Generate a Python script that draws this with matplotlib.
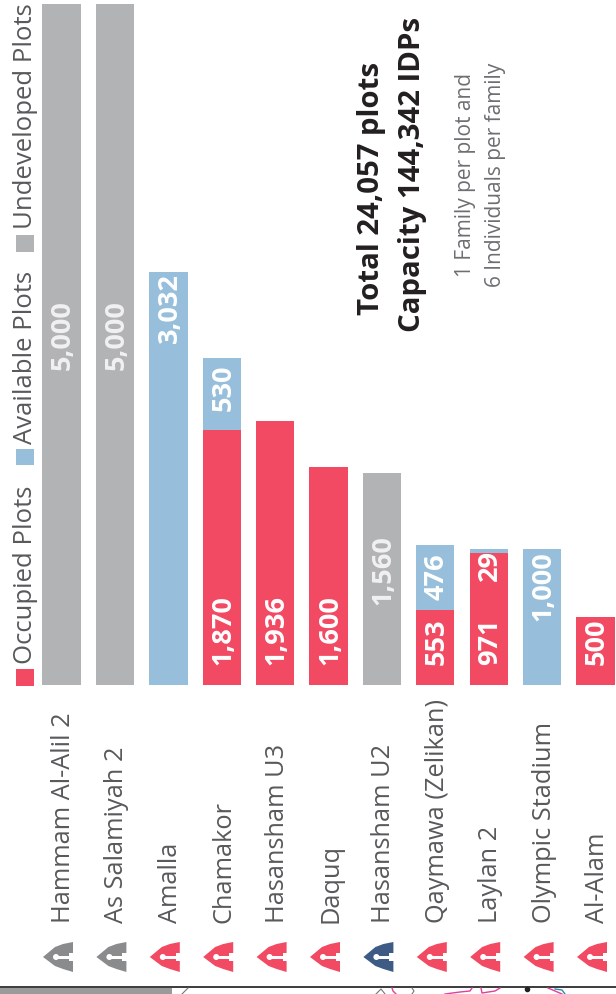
import matplotlib
matplotlib.use('Agg')
import matplotlib.pyplot as plt
from matplotlib.patches import Polygon, Circle, Rectangle
import numpy as np

# --- data ---
sites = ['Hammam Al-Alil 2', 'As Salamiyah 2', 'Amalla', 'Chamakor', 'Hasansham U3', 'Daquq',
         'Hasansham U2', 'Qaymawa (Zelikan)', 'Laylan 2', 'Olympic Stadium', 'Al-Alam']
occupied = [0, 0, 0, 1870, 1936, 1600, 0, 553, 971, 0, 500]
available = [0, 0, 3032, 530, 0, 0, 0, 476, 29, 1000, 0]
undeveloped = [5000, 5000, 0, 0, 0, 0, 1560, 0, 0, 0, 0]
icon_state = ['idle', 'idle', 'open', 'open', 'open', 'open', 'planned', 'open', 'open', 'open', 'open']

RED = '#F24A62'
BLUE = '#97BFDB'
GREY = '#B2B3B5'
TEXT_GREY = '#58595B'
ICON_COLORS = {'idle': '#8A8B8D', 'open': RED, 'planned': '#3E5B85'}

W, H = 616, 995
FONT = 'Open Sans'
plt.rcParams['font.family'] = [FONT, 'DejaVu Sans']

fig = plt.figure(figsize=(W / 100, H / 100), dpi=100)

# bars live in their own axes, baseline at y=686 and 5000 at y=5
BASE, TOP = 686, 5
X0, STEP, BAR_W = 61.5, 53.4, 38.4
ax = fig.add_axes([0, (H - BASE) / H, 1, (BASE - TOP) / H])
ax.set_xlim(-X0 / STEP, (W - X0) / STEP)
ax.set_ylim(0, 5000)
ax.axis('off')

x = np.arange(len(sites))
occ = np.array(occupied)
av = np.array(available)
und = np.array(undeveloped)
bar_kw = dict(width=BAR_W / STEP, linewidth=0)
ax.bar(x, occ, color=RED, **bar_kw)
ax.bar(x, av, bottom=occ, color=BLUE, **bar_kw)
ax.bar(x, und, bottom=occ + av, color=GREY, **bar_kw)

# overlay in picture pixels for text and decoration
px = fig.add_axes([0, 0, 1, 1])
px.set_xlim(0, W)
px.set_ylim(H, 0)
px.axis('off')
px.patch.set_alpha(0)


def vtext(xp, yp, s, size, color, weight='normal'):
    # xp is the baseline, yp the start of the string
    px.text(xp, yp, s, rotation=90, rotation_mode='anchor', ha='left', va='baseline',
            fontsize=size, color=color, fontweight=weight)


# value labels
OFFSET = 8.5
VAL_SIZE = 19.5
for i in x:
    cx = X0 + STEP * i
    if occ[i]:
        vtext(cx + OFFSET, 665, f'{occ[i]:,}', VAL_SIZE, 'white', 'bold')
    if und[i]:
        yp = 370 if und[i] == 5000 else 605
        vtext(cx + OFFSET, yp, f'{und[i]:,}', VAL_SIZE, '#F1F1F2', 'bold')
av_label_y = {2: 343, 3: 411, 7: 600, 8: 581, 9: 621}
for i, yp in av_label_y.items():
    cx = X0 + STEP * i
    vtext(cx + OFFSET, yp, f'{av[i]:,}', VAL_SIZE, 'white', 'bold')

# site names and pins
for i, name in enumerate(sites):
    cx = X0 + STEP * i
    vtext(cx + OFFSET, 923, name, 18.3, TEXT_GREY)
    left = cx - 18.5
    c = ICON_COLORS[icon_state[i]]
    px.add_patch(Polygon([(left, 958), (left + 12, 948), (left + 20, 945), (left + 30, 943),
                          (left + 30, 973), (left + 20, 970), (left + 12, 967)],
                         closed=True, fc=c, ec='none'))
    px.add_patch(Circle((left + 13, 958), 3, fc='white', ec='none'))
    px.add_patch(Rectangle((left + 13, 956.5), 13, 3, fc='white', ec='none'))
    px.add_patch(Rectangle((left + 26, 954), 4.5, 8, fc='white', ec='none'))

# legend
legend = [(670, 687, RED, 664, 'Occupied Plots'),
          (450, 466, BLUE, 444, 'Available Plots'),
          (236, 253, GREY, 229, 'Undeveloped Plots')]
for y0, y1, col, yt, lab in legend:
    px.add_patch(Rectangle((16, y0), 18, y1 - y0, fc=col, ec='none'))
    vtext(32, yt, lab, 18.5, TEXT_GREY)

# totals
vtext(379, 315, 'Total 24,057 plots', 21.2, '#231F20', 'bold')
vtext(420, 332, 'Capacity 144,342 IDPs', 21.2, '#231F20', 'bold')
vtext(471, 277, '1 Family per plot and', 15, '#6D6E71')
vtext(501, 287, '6 Individuals per family', 15, '#6D6E71')

# strip of the map below the chart
px.plot([0, W], [988, 988], color='#1A1A1A', lw=1.2)
px.add_patch(Rectangle((0, 989), 172, 6, fc='#9A9A9A', ec='none'))
px.plot([182, 188], [995, 989], color='#777777', lw=0.8)
px.plot([376, 381, 385], [995, 990, 995], color='#777777', lw=0.8)
px.plot([392, 393, 396], [989, 992, 995], color='#E0409A', lw=1)
px.plot([412, 414, 412], [989, 992, 995], color='#777777', lw=0.8)
px.plot([445, 460, 470, 472], [995, 993, 992, 989], color='#E0409A', lw=1)
px.plot([481, 482, 495, 500], [989, 994, 992, 989], color='#E0409A', lw=1)
px.plot([548, 555, 562], [989, 992, 995], color='#E0409A', lw=1)
px.plot([555, 562, 565], [990, 991, 995], color='#2A8FB0', lw=1)
px.plot([527], [990], marker='o', ms=3, color='#222222')

fig.savefig('out.png', dpi=100)
